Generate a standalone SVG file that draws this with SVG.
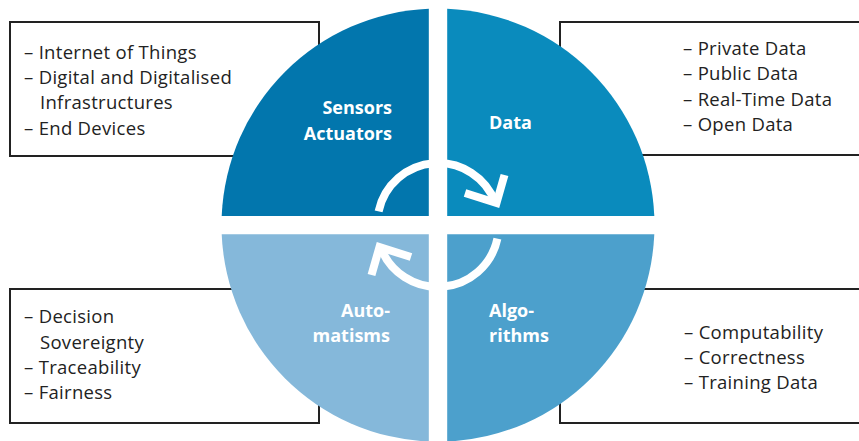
<svg xmlns="http://www.w3.org/2000/svg" width="859" height="441" viewBox="0 0 859 441">
<style>
.box{fill:#fff;stroke:#222;stroke-width:2}
.t{font-family:"Open Sans","Noto Sans",sans-serif;font-size:18.5px;letter-spacing:0.3px;fill:#222}
.lab{font-family:"Open Sans","Noto Sans",sans-serif;font-size:18px;font-weight:bold;fill:#fff}
.arc{fill:none;stroke:#fff;stroke-width:8}
</style>
<rect width="859" height="441" fill="#fff"/>
<g id="box-sensors">
<rect class="box" x="10" y="22" width="309" height="134"/>
<text class="t" x="24" y="59">– Internet of Things</text>
<text class="t" x="24" y="84">– Digital and Digitalised</text>
<text class="t" x="40" y="109">Infrastructures</text>
<text class="t" x="24" y="134.5">– End Devices</text>
</g>
<g id="box-data">
<rect class="box" x="560" y="22" width="320" height="133"/>
<text class="t" x="683" y="54.5">– Private Data</text>
<text class="t" x="683" y="80">– Public Data</text>
<text class="t" x="683" y="105.5">– Real-Time Data</text>
<text class="t" x="683" y="131">– Open Data</text>
</g>
<g id="box-automatisms">
<rect class="box" x="10" y="289" width="309" height="134"/>
<text class="t" x="24" y="323">– Decision</text>
<text class="t" x="40" y="348.5">Sovereignty</text>
<text class="t" x="24" y="374">– Traceability</text>
<text class="t" x="24" y="399">– Fairness</text>
</g>
<g id="box-algorithms">
<rect class="box" x="560" y="289" width="320" height="134"/>
<text class="t" x="684" y="339">– Computability</text>
<text class="t" x="684" y="364">– Correctness</text>
<text class="t" x="684" y="389">– Training Data</text>
</g>
<g id="q-sensors">
<path d="M428.8,216 L428.8,8.7 A216.5,216.5 0 0 0 221.7,216 Z" fill="#0276AD"/>
<text class="lab" x="392" y="114" text-anchor="end">Sensors</text>
<text class="lab" x="392" y="140" text-anchor="end">Actuators</text>
</g>
<g id="q-data">
<path d="M447.2,216 L447.2,8.7 A216.5,216.5 0 0 1 654.3,216 Z" fill="#0A8BBD"/>
<text class="lab" x="489" y="129">Data</text>
</g>
<g id="q-algorithms">
<path d="M447.2,234.3 L654.3,234.3 A216.5,216.5 0 0 1 447.2,441.5 Z" fill="#4CA0CC"/>
<text class="lab" x="489" y="316.5">Algo-</text>
<text class="lab" x="489" y="341.5">rithms</text>
</g>
<g id="q-automatisms">
<path d="M428.8,234.3 L428.8,441.5 A216.5,216.5 0 0 1 221.7,234.3 Z" fill="#85B8DA"/>
<text class="lab" x="390" y="316.5" text-anchor="end">Auto-</text>
<text class="lab" x="390" y="341.5" text-anchor="end">matisms</text>
</g>
<g id="connectors">
<path class="arc" d="M378.6,211.3 A61,61 0 0 1 495.5,203"/>
<polyline class="arc" points="504.5,175 496.5,203 465,193"/>
<path class="arc" d="M497.4,238.7 A61,61 0 0 1 380.5,247"/>
<polyline class="arc" points="371.5,275 379.5,247 411,257"/>
</g>
</svg>
